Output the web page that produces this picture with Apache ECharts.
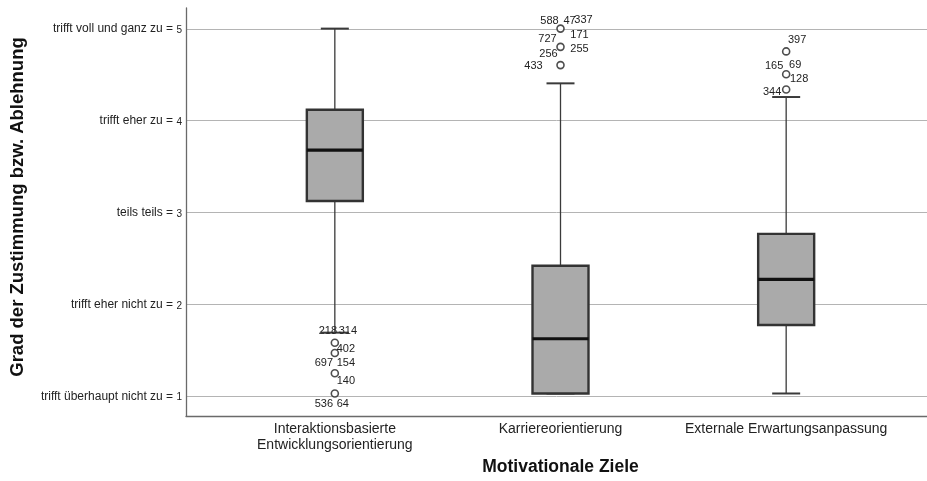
<!DOCTYPE html>
<html><head><meta charset="utf-8">
<script src="https://cdn.jsdelivr.net/npm/echarts@6/dist/echarts.min.js"></script>
<style>html,body{margin:0;padding:0;background:#fff}#c{width:927px;height:481px}</style>
</head><body><div id="c"></div>
<script>
// ---- data ----
const categories = ['Interaktionsbasierte\nEntwicklungsorientierung', 'Karriereorientierung', 'Externale Erwartungsanpassung'];
const tickValues = [1, 2, 3, 4, 5];
const tickTexts = ['trifft überhaupt nicht zu =', 'trifft eher nicht zu =', 'teils teils =', 'trifft eher zu =', 'trifft voll und ganz zu ='];
const whiskerLow = [1.667, 1.0, 1.0];
const q1 = [3.111, 1.0, 1.75];
const median = [3.667, 1.6, 2.25];
const q3 = [4.111, 2.4, 2.75];
const whiskerHigh = [5.0, 4.4, 4.25];
const outliers = [[0, 1.556], [0, 1.444], [0, 1.222], [0, 1.0], [1, 5.0], [1, 4.8], [1, 4.6], [2, 4.75], [2, 4.5], [2, 4.333]];
const caseLabels = [[0, 1.667, '218'], [0, 1.667, '314'], [0, 1.556, '402'], [0, 1.444, '697'], [0, 1.444, '154'], [0, 1.222, '140'], [0, 1.0, '536'], [0, 1.0, '64'],
  [1, 5, '588'], [1, 5, '47'], [1, 5, '337'], [1, 5, '171'], [1, 4.8, '727'], [1, 4.8, '255'], [1, 4.6, '256'], [1, 4.6, '433'],
  [2, 4.75, '397'], [2, 4.5, '165'], [2, 4.5, '69'], [2, 4.5, '128'], [2, 4.333, '344']];
const yMin = 0.785, yMax = 5.226;
// ---- style (label placement offsets in px) ----
const labelOffsets = [[-7, -2], [13, -2], [11, 6], [-11, 10], [11, 10], [11, 8], [-11, 10], [8, 10],
  [-11, -8], [9, -8], [23, -9], [19, 6], [-13, -8], [19, 2], [-12, -11], [-27, 1],
  [11, -11], [-12, -8], [9, -9], [13, 5], [-14, 3]];

const FONT = '"Liberation Sans", Arial, sans-serif';
const chart = echarts.init(document.getElementById('c'), null, {renderer: 'canvas'});
const boxData = categories.map((c, i) => [i, whiskerLow[i], q1[i], median[i], q3[i], whiskerHigh[i]]);

chart.setOption({
  animation: false,
  backgroundColor: '#fff',
  textStyle: {fontFamily: FONT},
  grid: [
    {left: 186, right: 0, top: 8, bottom: 65},
    {left: 222, right: 28, top: 8, bottom: 65}
  ],
  xAxis: [
    {gridIndex: 0, type: 'value', min: 0, max: 1, axisLine: {show: true, lineStyle: {color: '#6a6a6a', width: 1.3}},
      axisTick: {show: false}, axisLabel: {show: false}, splitLine: {show: false}},
    {gridIndex: 1, type: 'category', data: categories, axisLine: {show: false}, axisTick: {show: false},
      axisLabel: {interval: 0, hideOverlap: false, fontSize: 14, color: '#222', margin: 8, lineHeight: 16, fontFamily: FONT},
      name: 'Motivationale Ziele', nameLocation: 'middle', nameGap: 43,
      nameTextStyle: {fontSize: 17.5, fontWeight: 'bold', color: '#111', fontFamily: FONT}}
  ],
  yAxis: [
    {gridIndex: 0, type: 'value', min: yMin, max: yMax, splitNumber: 5,
      axisLine: {show: true, lineStyle: {color: '#6a6a6a', width: 1.3}}, axisTick: {show: false},
      splitLine: {show: true, showMinLine: false, showMaxLine: false, lineStyle: {color: '#b4b4b4', width: 1}},
      axisLabel: {margin: 4, formatter: function (v) {
        const r = Math.round(v);
        if (Math.abs(v - r) > 1e-6) return '';
        const i = tickValues.indexOf(r);
        if (i < 0) return '';
        return '{a|' + tickTexts[i] + ' }{b|' + r + '}';
      }, rich: {a: {fontSize: 12, color: '#222', fontFamily: FONT}, b: {fontSize: 10, color: '#222', fontFamily: FONT, padding: [3, 0, 0, 0]}}},
      name: 'Grad der Zustimmung bzw. Ablehnung', nameLocation: 'middle', nameGap: 159,
      nameTextStyle: {fontSize: 18.5, fontWeight: 'bold', color: '#111', fontFamily: FONT, padding: [0, 0, 0, 10]}},
    {gridIndex: 1, type: 'value', min: yMin, max: yMax, show: false, splitLine: {show: false}}
  ],
  series: [
    {
      type: 'custom', xAxisIndex: 1, yAxisIndex: 1, z: 3,
      data: boxData,
      encode: {x: 0, y: [1, 2, 3, 4, 5]},
      renderItem: function (params, api) {
        const idx = api.value(0);
        const pt = k => api.coord([idx, api.value(k)]);
        const cx = pt(1)[0];
        const yLow = pt(1)[1], yQ1 = pt(2)[1], yMed = pt(3)[1], yQ3 = pt(4)[1], yHigh = pt(5)[1];
        const hw = 28, cw = 14;
        const thin = {stroke: '#3a3a3a', lineWidth: 1.3};
        const cap = {stroke: '#3a3a3a', lineWidth: 2};
        return {
          type: 'group',
          children: [
            {type: 'line', shape: {x1: cx, y1: yHigh, x2: cx, y2: yQ3}, style: thin},
            {type: 'line', shape: {x1: cx, y1: yQ1, x2: cx, y2: yLow}, style: thin},
            {type: 'line', shape: {x1: cx - cw, y1: yHigh, x2: cx + cw, y2: yHigh}, style: cap},
            {type: 'line', shape: {x1: cx - cw, y1: yLow, x2: cx + cw, y2: yLow}, style: cap},
            {type: 'rect', shape: {x: cx - hw, y: yQ3, width: 2 * hw, height: yQ1 - yQ3},
              style: {fill: '#aaaaaa', stroke: '#333', lineWidth: 2.4}},
            {type: 'line', shape: {x1: cx - hw, y1: yMed, x2: cx + hw, y2: yMed}, style: {stroke: '#111', lineWidth: 3.2}}
          ]
        };
      }
    },
    {
      type: 'scatter', xAxisIndex: 1, yAxisIndex: 1, z: 4,
      data: outliers, symbol: 'circle', symbolSize: 7,
      itemStyle: {color: '#fff', borderColor: '#222', borderWidth: 1.6}
    },
    {
      type: 'custom', xAxisIndex: 1, yAxisIndex: 1, z: 5,
      data: caseLabels.map(d => [d[0], d[1]]),
      encode: {x: 0, y: 1},
      renderItem: function (params, api) {
        const p = api.coord([api.value(0), api.value(1)]);
        const off = labelOffsets[params.dataIndex];
        return {
          type: 'text',
          style: {x: p[0] + off[0], y: p[1] + off[1], text: caseLabels[params.dataIndex][2],
            fill: '#222', font: '11px ' + FONT, textAlign: 'center', textVerticalAlign: 'middle'}
        };
      }
    }
  ]
});
</script>
</body></html>
